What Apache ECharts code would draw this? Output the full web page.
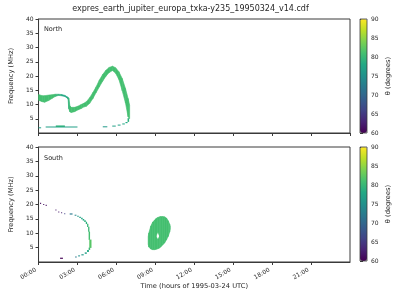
<!DOCTYPE html>
<html>
<head>
<meta charset="utf-8">
<script src="https://cdn.jsdelivr.net/npm/echarts@6/dist/echarts.min.js"></script>
<style>html,body{margin:0;padding:0;background:#fff}#c{width:400px;height:300px}</style>
</head>
<body>
<div id="c"></div>
<script>
// ---- data (time in hours UTC, frequency in MHz, theta in degrees) ----
const chartTitle = 'expres_earth_jupiter_europa_txka-y235_19950324_v14.cdf';
const xTickLabels = ['00:00','03:00','06:00','09:00','12:00','15:00','18:00','21:00'];
const yTickValues = [5,10,15,20,25,30,35,40];
const cbarTickValues = [60,65,70,75,80,85,90];

// North: main emission band, columns [time, fLow, fHigh, theta]
const northMainBand = [
 [0.00, 11.5, 13.5, 81],[0.28, 11.0, 13.1, 81],[0.47, 10.8, 13.1, 81],[0.78, 11.4, 13.3, 81],
 [1.03, 12.1, 13.4, 81],[1.28, 12.8, 13.6, 80],[1.53, 13.2, 13.6, 79],[1.78, 13.05, 13.5, 78],
 [2.03, 12.8, 13.2, 78],[2.20, 12.3, 12.7, 78],[2.28, 11.8, 12.5, 79],[2.33, 8.5, 12.2, 80],
 [2.42, 7.4, 9.5, 81],[2.53, 7.2, 9.0, 81],[2.78, 7.5, 9.0, 81],[3.03, 8.1, 9.4, 81],
 [3.29, 8.6, 10.0, 81],[3.48, 9.1, 10.4, 81],[3.69, 9.4, 11.0, 81],[3.94, 10.4, 12.4, 81],
 [4.19, 12.1, 14.2, 81],[4.44, 14.2, 16.2, 81],[4.69, 16.2, 18.6, 81],[4.94, 18.2, 20.5, 81],
 [5.19, 19.9, 22.0, 81],[5.44, 21.2, 23.0, 81],[5.70, 21.9, 23.45, 81],[5.94, 21.0, 22.9, 81],
 [6.19, 18.8, 21.5, 81],[6.45, 14.8, 19.1, 81],[6.70, 10.5, 15.6, 81],[6.90, 5.7, 12.1, 81],
 [7.02, 5.0, 9.8, 81]
];
// North: isolated cells [tStart, fLow, fHigh, theta, tEnd]
const northCells = [
 [0.00, 1.7, 2.0, 77, 0.20],[0.55, 2.0, 2.3, 77, 3.00],[1.33, 2.1, 2.65, 79, 2.03],
 [4.95, 2.05, 2.35, 76, 5.30],[5.68, 2.3, 2.6, 77, 5.95],[6.10, 2.65, 2.95, 77, 6.32],
 [6.45, 3.0, 3.35, 78, 6.65],[6.70, 3.45, 3.85, 78, 6.86],[6.86, 3.9, 5.2, 79, 6.98]
];
// South: blob around 09:00 (split around its hole), columns [time, fLow, fHigh, theta]
const southBlobLeft = [
 [8.45, 6.2, 8.8, 81],[8.50, 5.2, 10.1, 81],[8.65, 4.5, 12.5, 81],[8.80, 4.3, 13.9, 81],
 [8.95, 4.3, 14.6, 81],[9.05, 4.4, 15.1, 81]
];
const southBlobUnderHole = [[9.05, 4.4, 9.0, 81],[9.19, 4.6, 7.8, 81],[9.33, 4.9, 9.0, 81]];
const southBlobOverHole = [[9.05, 9.0, 15.1, 81],[9.19, 10.4, 15.5, 81],[9.33, 9.0, 15.7, 81]];
const southBlobRight = [
 [9.33, 4.9, 15.7, 81],[9.41, 5.2, 15.8, 81],[9.56, 5.9, 15.8, 81],[9.71, 6.6, 15.7, 81],
 [9.86, 7.7, 15.3, 81],[10.00, 9.0, 14.3, 81],[10.10, 10.4, 13.2, 81],[10.15, 11.5, 12.4, 81]
];
// South: isolated cells [tStart, fLow, fHigh, theta, tEnd]
const southCells = [
 [0.12, 20.2, 20.6, 61, 0.20],[0.36, 19.8, 20.2, 61, 0.44],[0.55, 19.5, 19.9, 61, 0.63],
 [1.30, 17.9, 18.3, 62, 1.38],[1.52, 17.3, 17.6, 62, 1.60],[1.74, 17.0, 17.3, 63, 1.82],
 [1.98, 16.7, 17.0, 66, 2.06],[2.40, 16.5, 16.9, 72, 2.62],[2.78, 16.1, 16.45, 74, 2.92],
 [2.98, 15.75, 16.1, 76, 3.10],[3.14, 15.3, 15.7, 77, 3.26],[3.28, 14.9, 15.35, 78, 3.40],
 [3.40, 14.4, 14.95, 78, 3.52],[3.52, 13.9, 14.5, 79, 3.64],[3.64, 13.2, 14.0, 79, 3.74],
 [3.74, 12.2, 13.3, 80, 3.84],[3.82, 10.5, 12.3, 80, 3.92],[3.86, 7.7, 10.6, 81, 3.97],
 [3.91, 4.9, 7.8, 82, 4.08],[3.86, 4.2, 5.0, 80, 3.98],[3.74, 3.5, 4.2, 78, 3.88],
 [3.56, 2.85, 3.35, 77, 3.72],[3.30, 2.3, 2.7, 76, 3.48],[3.05, 1.95, 2.3, 75, 3.20],
 [2.82, 1.6, 1.9, 72, 2.94],[1.66, 1.1, 1.5, 60, 1.88]
];

// ---- rendering ----
const viridis = ['#440154','#482475','#414487','#355f8d','#2a788e','#21918c','#22a884','#44bf70','#7ad151','#bddf26','#fde725'];
const FONT = 'DejaVu Sans';
const TXT = '#262626';
const AX = '#3a3a3a';

function bandSeries(band, gi) {
  return {
    type: 'custom', xAxisIndex: gi, yAxisIndex: gi, clip: true, silent: true,
    data: band,
    renderItem: function (params, api) {
      const i = params.dataIndex;
      if (i >= band.length - 1) return null;
      const a = band[i], b = band[i + 1];
      const pts = [api.coord([a[0], a[1]]), api.coord([a[0], a[2]]), api.coord([b[0], b[2]]), api.coord([b[0], b[1]])];
      const c = api.visual('color');
      return { type: 'polygon', shape: { points: pts }, style: { fill: c, stroke: c, lineWidth: 0.6 } };
    }
  };
}
function cellSeries(cells, gi) {
  return {
    type: 'custom', xAxisIndex: gi, yAxisIndex: gi, clip: true, silent: true,
    data: cells,
    renderItem: function (params, api) {
      const p0 = api.coord([api.value(0), api.value(2)]);
      const p1 = api.coord([api.value(4), api.value(1)]);
      const w = Math.max(1, p1[0] - p0[0]);
      const h = Math.max(1, p1[1] - p0[1]);
      return { type: 'rect', shape: { x: p0[0], y: p0[1], width: w, height: h }, style: { fill: api.visual('color') } };
    }
  };
}

const GL = 31, GW = 319, GH = 115;
const tops = [19, 147];
const grids = [], xAxes = [], yAxes = [], visualMaps = [];
tops.forEach((top, k) => {
  grids.push({ left: GL, top: top, width: GW, height: GH - (k === 0 ? 1 : 0), show: true, borderColor: AX, borderWidth: 1, backgroundColor: 'transparent' });
  xAxes.push({
    gridIndex: k, type: 'value', min: 0, max: 24, interval: 3,
    axisLine: { show: true, onZero: false, lineStyle: { color: AX } },
    axisTick: { show: true, length: 3, lineStyle: { color: AX } },
    splitLine: { show: false },
    axisLabel: k === 0 ? { show: false } : {
      show: true, rotate: 30, margin: 6, padding: [0, 3, 0, 0], fontSize: 6, fontFamily: FONT, color: TXT, showMaxLabel: false,
      formatter: v => xTickLabels[Math.round(v / 3)] || ''
    },
    name: k === 1 ? 'Time (hours of 1995-03-24 UTC)' : '',
    nameLocation: 'middle', nameGap: 21,
    nameTextStyle: { fontSize: 6.7, fontFamily: FONT, color: TXT }
  });
  yAxes.push({
    gridIndex: k, type: 'value', min: 0, max: 40, interval: 5,
    axisLine: { show: true, onZero: false, lineStyle: { color: AX } },
    axisTick: { show: true, length: 3, lineStyle: { color: AX } },
    splitLine: { show: false },
    axisLabel: { show: true, margin: 5, fontSize: 6, fontFamily: FONT, color: TXT, showMinLabel: false,
      formatter: v => (yTickValues.indexOf(v) >= 0 ? String(v) : '') },
    name: 'Frequency (MHz)', nameLocation: 'middle', nameGap: 16,
    nameTextStyle: { fontSize: 6.7, fontFamily: FONT, color: TXT }
  });
});
// colorbar axes
tops.forEach((top, k) => {
  grids.push({ left: 360, top: top, width: 7, height: GH - 1, show: true, borderColor: AX, borderWidth: 0.8, backgroundColor: 'transparent', z: 10 });
  xAxes.push({ gridIndex: 2 + k, type: 'value', show: false, min: 0, max: 1 });
  yAxes.push({
    gridIndex: 2 + k, type: 'value', position: 'right', min: 60, max: 90, interval: 5,
    axisLine: { show: false }, splitLine: { show: false },
    axisTick: { show: true, length: 3, lineStyle: { color: AX } },
    axisLabel: { margin: 4, fontSize: 6, fontFamily: FONT, color: TXT,
      formatter: v => (cbarTickValues.indexOf(v) >= 0 ? String(v) : '') },
    name: 'θ (degrees)', nameLocation: 'middle', nameGap: 18, nameRotate: 90,
    nameTextStyle: { fontSize: 6.7, fontFamily: FONT, color: TXT }
  });
  visualMaps.push({
    type: 'continuous', min: 60, max: 90, dimension: 3,
    seriesIndex: k === 0 ? [0, 1] : [2, 3, 4, 5, 6, 7],
    inRange: { color: viridis }, left: 360, top: top, itemWidth: 7, itemHeight: GH - 1,
    padding: 0, text: null, calculable: false, showLabel: false, hoverLink: false, realtime: false
  });
});

const series = [
  bandSeries(northMainBand, 0),
  cellSeries(northCells, 0),
  bandSeries(southBlobLeft, 1),
  bandSeries(southBlobUnderHole, 1),
  bandSeries(southBlobOverHole, 1),
  bandSeries(southBlobRight, 1),
  cellSeries(southCells, 1),
  { type: 'scatter', xAxisIndex: 2, yAxisIndex: 2, data: [] }
];

const chart = echarts.init(document.getElementById('c'), null, { renderer: 'canvas' });
chart.setOption({
  animation: false,
  backgroundColor: '#fff',
  title: { text: chartTitle, left: 190.5, top: 5, padding: 0, textAlign: 'center',
    textStyle: { fontSize: 8, fontWeight: 'normal', fontFamily: FONT, color: TXT } },
  graphic: [
    { type: 'text', left: 44, top: 26, style: { text: 'North', font: '6.5px "DejaVu Sans"', fill: TXT } },
    { type: 'text', left: 44, top: 155, style: { text: 'South', font: '6.5px "DejaVu Sans"', fill: TXT } }
  ],
  grid: grids, xAxis: xAxes, yAxis: yAxes, visualMap: visualMaps, series: series
});
</script>
</body>
</html>
